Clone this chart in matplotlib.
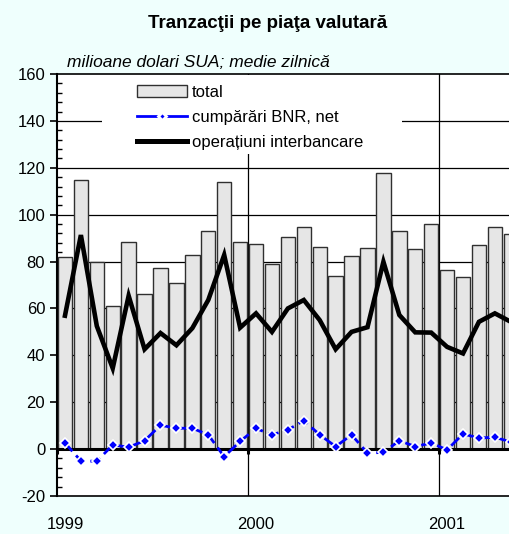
import numpy as np
import matplotlib
matplotlib.use("Agg")
import matplotlib.pyplot as plt
from matplotlib.ticker import MultipleLocator
from matplotlib.patches import Rectangle
from matplotlib.lines import Line2D

plt.rcParams['font.family'] = ['Liberation Sans', 'DejaVu Sans']
plt.rcParams['axes.unicode_minus'] = False

# monthly data, Jan 1999 .. May 2001
total = [82, 115, 79.6, 61.1, 88.2, 66.1, 77.1, 70.7, 82.8, 93, 113.8, 88.2,
         87.5, 79, 90.6, 94.7, 86, 74, 82.3, 85.7, 117.7, 93, 85.3, 96,
         76.4, 73.4, 87, 94.7, 91.7]
bnr = [2.6, -5, -5.2, 1.8, 0.8, 3.6, 10.2, 8.9, 8.9, 6.1, -3.2, 3.3,
       8.8, 6.1, 8.2, 12.2, 6.1, 1.1, 6.1, -1.7, -1.4, 3.6, 1.1, 2.6,
       -0.3, 6.5, 4.7, 5.1, 3.0]
interbank = [56.9, 91.3, 52.5, 34.5, 65.4, 42.6, 49.5, 44.3, 51.6, 63.6, 82.8, 51.8,
             57.9, 50, 60, 63.6, 55, 42.6, 50, 52, 79.9, 57.2, 49.8, 49.7,
             43.6, 40.8, 54.3, 57.9, 54.3]
years = ['1999', '2000', '2001']

x = np.arange(len(total))
bg = '#effffd'

fig = plt.figure(figsize=(5.10, 5.34), dpi=100, facecolor=bg)
ax = fig.add_axes([57/510, 1-496/534, 1-57/510, 422/534])
ax.set_facecolor('white')

ax.set_xlim(-0.5, 27.95)
ax.set_ylim(-20, 160)

# grid
for v in range(20, 160, 20):
    ax.axhline(v, color='black', lw=0.9, zorder=0.5)
for b in [11.5, 23.5]:
    ax.axvline(b, color='black', lw=0.9, zorder=0.5)

ax.bar(x, total, width=0.9, color='#e6e6e6', edgecolor='#303030', lw=1.0, zorder=2)
ax.axhline(0, color='black', lw=2.2, zorder=3)
ax.vlines([-0.5, 11.5, 23.5], -2.2, 0, color='black', lw=2.2, zorder=3)

ax.plot(x, bnr, color='#0000ff', lw=2.0, ls=(0, (4, 2)), marker='D', ms=5.5,
        mfc='#0000ff', mec='white', mew=1.2, zorder=4)
ax.plot(x, interbank, color='black', lw=3.3, zorder=5, solid_joinstyle='miter')

# white box behind legend
ax.add_patch(Rectangle((0.099, 0.81), 0.662, 0.188, transform=ax.transAxes,
                       facecolor='white', edgecolor='none', zorder=1.5))

handles = [
    Rectangle((0, 0), 1, 1, facecolor='#e6e6e6', edgecolor='#303030', lw=1.0),
    Line2D([], [], color='#0000ff', lw=2.0, marker='D', ms=4.5,
           mfc='#0000ff', mec='white', mew=2.0),
    Line2D([], [], color='black', lw=3.6),
]
leg = ax.legend(handles, ['total', 'cumpărări BNR, net', 'operațiuni interbancare'],
                loc='upper left', bbox_to_anchor=(0.177, 0.975), frameon=False,
                fontsize=12, handlelength=3.0, handletextpad=0.3, borderpad=0,
                labelspacing=0.62, borderaxespad=0, numpoints=1)
leg.set_zorder(6)

# axes styling
ax.spines['right'].set_visible(False)
ax.spines['top'].set_linewidth(1.2)
ax.spines['left'].set_linewidth(1.5)
ax.spines['bottom'].set_linewidth(1.2)
ax.yaxis.set_major_locator(MultipleLocator(20))
ax.yaxis.set_minor_locator(MultipleLocator(4))
ax.tick_params(axis='y', which='major', direction='out', length=5, width=1.2,
               labelsize=12, pad=3.5)
ax.tick_params(axis='y', which='minor', direction='in', length=3.5, width=1.0)
ax.set_xticks([0, 12, 24])
ax.set_xticklabels(years)
ax.tick_params(axis='x', length=0, labelsize=12, pad=15)

fig.text(268/510, 1-24/534, 'Tranzacţii pe piaţa valutară', ha='center', va='center',
         fontsize=13.5, fontweight='bold')
fig.text(67/510, 1-62/534, 'milioane dolari SUA; medie zilnică', ha='left', va='center',
         fontsize=12.5, style='italic')

fig.savefig('out.png', dpi=100, facecolor=bg)
